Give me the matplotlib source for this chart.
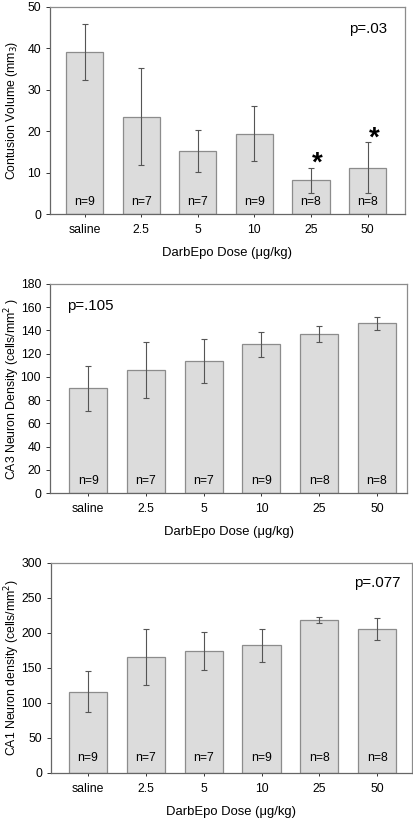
import numpy as np
import matplotlib.pyplot as plt

plt.rcParams['font.family'] = ['Liberation Sans', 'DejaVu Sans']

doses = ['saline', '2.5', '5', '10', '25', '50']
n_labels = ['n=9', 'n=7', 'n=7', 'n=9', 'n=8', 'n=8']

contusion = [39.1, 23.5, 15.2, 19.4, 8.1, 11.2]
contusion_err = [6.7, 11.7, 5.1, 6.7, 3.1, 6.1]
star_groups = [4, 5]

ca3 = [90, 106, 114, 128, 137, 146]
ca3_err = [19, 24, 19, 11, 7, 5.6]

ca1 = [116, 166, 174, 182, 218, 206]
ca1_err = [29, 40, 27.5, 23.5, 4.7, 15.6]

bar_fc = '#dcdcdc'
bar_ec = '#8c8c8c'
frame_c = '#8c8c8c'

fig = plt.figure(figsize=(4.14, 8.21), dpi=100)

panels = [
    dict(rect=[0.121, 0.7393, 0.857, 0.2522], vals=contusion, errs=contusion_err,
         ymax=50, step=10, ylabel='Contusion Volume (mm$_3$)', xlim=(-0.61, 5.66),
         ptext='p=.03', px=4.68, py=44.6, n_y=2.9),
    dict(rect=[0.121, 0.3995, 0.862, 0.2546], vals=ca3, errs=ca3_err,
         ymax=180, step=20, ylabel='CA3 Neuron Density (cells/mm$^2$ )', xlim=(-0.66, 5.52),
         ptext='p=.105', px=-0.36, py=161, n_y=10.5),
    dict(rect=[0.123, 0.0585, 0.872, 0.2561], vals=ca1, errs=ca1_err,
         ymax=300, step=50, ylabel='CA1 Neuron density (cells/mm$^2$)', xlim=(-0.64, 5.6),
         ptext='p=.077', px=4.6, py=271, n_y=21),
]

x = np.arange(len(doses))
for i, p in enumerate(panels):
    ax = fig.add_axes(p['rect'])
    ax.bar(x, p['vals'], width=0.66, color=bar_fc, edgecolor=bar_ec, linewidth=0.9, zorder=2)
    ax.errorbar(x, p['vals'], yerr=p['errs'], fmt='none', ecolor='#555555',
                elinewidth=0.8, capsize=2.5, capthick=0.8, zorder=3)
    ax.set_xlim(*p['xlim'])
    ax.set_ylim(0, p['ymax'])
    ax.set_yticks(np.arange(0, p['ymax'] + 1, p['step']))
    ax.set_xticks(x)
    ax.set_xticklabels(doses)
    ax.tick_params(axis='both', labelsize=8.8, colors='#333333', labelcolor='black',
                   length=3, width=0.7, direction='out')
    ax.tick_params(axis='x', length=2, pad=5)
    for s in ax.spines.values():
        s.set_color(frame_c)
        s.set_linewidth(0.9)
    ax.spines['left'].set_color('#666666')
    ax.spines['bottom'].set_color('#666666')
    ax.set_ylabel(p['ylabel'], fontsize=8.8, va='center')
    # place y label center about 12 px from the figure's left edge
    w_px = p['rect'][2] * 414
    ax.yaxis.set_label_coords((12 - p['rect'][0] * 414) / w_px, 0.5)
    ax.set_xlabel('DarbEpo Dose (\u03bcg/kg)', fontsize=9.4, labelpad=8)
    for xi, lab in zip(x, n_labels):
        ax.text(xi, p['n_y'], lab, ha='center', va='center', fontsize=8.8)
    ax.text(p['px'], p['py'], p['ptext'], ha='left', va='center', fontsize=10.8)
    if i == 0:
        for g in star_groups:
            top = p['vals'][g] + p['errs'][g]
            ax.text(g + 0.12, top + 1.0, '*', ha='center', va='center',
                    fontsize=20, fontweight='bold')

fig.savefig('out.png', dpi=100)
